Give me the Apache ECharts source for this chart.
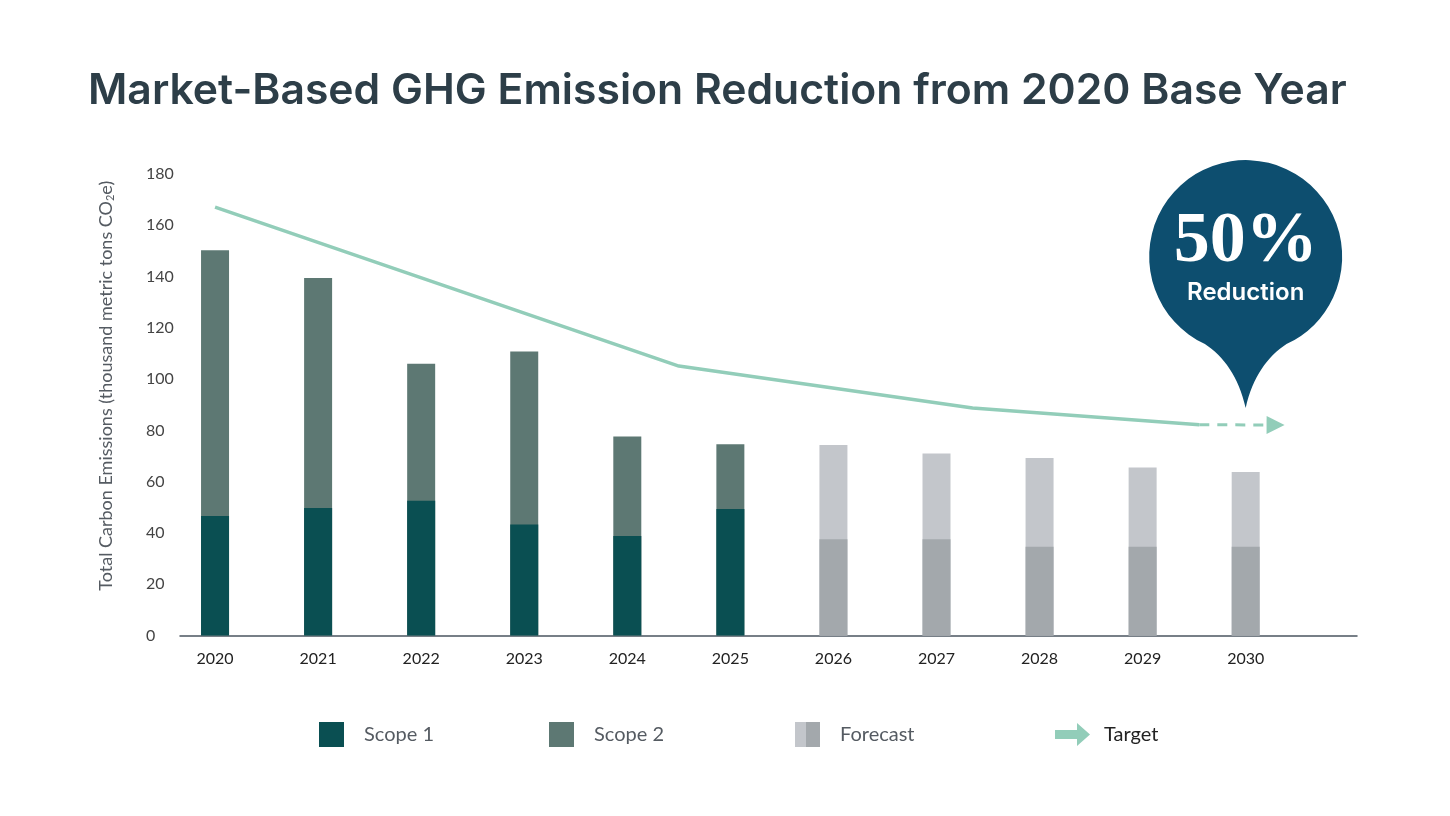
<!DOCTYPE html>
<html>
<head>
<meta charset="utf-8">
<title>Market-Based GHG Emission Reduction</title>
<script src="https://cdn.jsdelivr.net/npm/echarts@6/dist/echarts.min.js"></script>
<style>
    html, body { margin: 0; padding: 0; background: #fff; }
    #chart { width: 1450px; height: 816px; }
</style>
</head>
<body>
<div id="chart"></div>
<script>
    // data
    var years = [2020, 2021, 2022, 2023, 2024, 2025, 2026, 2027, 2028, 2029, 2030];
    var actualYears = [2020, 2021, 2022, 2023, 2024, 2025];
    var scope1 = [46.6, 49.7, 52.6, 43.3, 38.8, 49.3];
    var scope2 = [103.7, 89.7, 53.4, 67.5, 38.8, 25.3];
    var forecastYears = [2026, 2027, 2028, 2029, 2030];
    var forecastLow = [37.5, 37.5, 34.6, 34.6, 34.6];
    var forecastHigh = [36.8, 33.5, 34.6, 30.9, 29.2];
    // target path (x in fractional years)
    var targetX = [2020, 2024.5, 2027.35, 2029.55];
    var targetY = [167.1, 105.1, 88.7, 82.2];
    var targetEnd = [2030.29, 82.1];
    var bubbleAt = [2030, 88.7];
    var yTicks = [0, 20, 40, 60, 80, 100, 120, 140, 160, 180];

    var C_S1 = '#0A4F52', C_S2 = '#5D7873', C_FL = '#A3A8AC', C_FH = '#C3C6CB';
    var C_LINE = '#92CDB9', C_BUBBLE = '#0D4E6F';
    var FONT = 'Lato';

    function pairs(xs, ys) {
        return xs.map(function (x, i) { return [x, ys[i]]; });
    }
    // stacked look: the upper part is drawn as a full-height bar behind the lower one
    function totals(xs, a, b) {
        return xs.map(function (x, i) { return [x, +(a[i] + b[i]).toFixed(1)]; });
    }

    var bubblePath = 'path://M-40.8 87.5 A96.5 96.5 0 1 1 40.8 87.5 C22 100 7 120 0 151.5 C-7 120 -22 100 -40.8 87.5 Z';
    var arrowIcon = 'path://M0 7 L22 7 L22 0 L35 11.5 L22 23 L22 16 L0 16 Z';

    function legendAt(name, left, extra) {
        var l = {
            left: left, top: 717,
            itemWidth: 25, itemHeight: 25,
            icon: 'rect',
            selectedMode: false,
            data: [name],
            textStyle: { fontFamily: FONT, fontSize: 20, color: '#555b62', padding: [0, 0, 0, 15] }
        };
        for (var k in extra) { l[k] = extra[k]; }
        return l;
    }

    var chart = echarts.init(document.getElementById('chart'));
    var option = {
        backgroundColor: '#fff',
        animation: false,
        title: {
            text: 'Market-Based GHG Emission Reduction from 2020 Base Year',
            left: 83, top: 65,
            textStyle: { fontFamily: 'Inter', fontWeight: 600, fontSize: 42.7, color: '#2D3E48' }
        },
        legend: [
            legendAt('Scope 1', 314, {}),
            legendAt('Scope 2', 544, {}),
            legendAt('Forecast', 790, {
                data: [{
                    name: 'Forecast',
                    itemStyle: {
                        color: {
                            type: 'linear', x: 0, y: 0, x2: 1, y2: 0,
                            colorStops: [
                                { offset: 0, color: C_FH }, { offset: 0.46, color: C_FH },
                                { offset: 0.46, color: C_FL }, { offset: 1, color: C_FL }
                            ]
                        }
                    }
                }]
            }),
            legendAt('Target', 1050, {
                top: 718,
                itemWidth: 35, itemHeight: 23,
                data: [{ name: 'Target', icon: arrowIcon }],
                textStyle: { fontFamily: FONT, fontSize: 20, color: '#222', padding: [0, 0, 0, 9] }
            })
        ],
        grid: { left: 180, right: 93, top: 174, bottom: 180.5, containLabel: false },
        xAxis: {
            type: 'value',
            min: 2019.66, max: 2031.08,
            splitLine: { show: false },
            axisTick: { show: false },
            axisLine: { show: true, lineStyle: { color: '#4b5560', width: 1.5 } },
            axisLabel: {
                customValues: years,
                margin: 15,
                fontFamily: FONT, fontSize: 16, color: '#222',
                formatter: function (v) { return String(Math.round(v)); }
            }
        },
        yAxis: {
            type: 'value',
            min: 0, max: 180, interval: 20,
            name: 'Total Carbon Emissions (thousand metric tons CO{sub|2}e)',
            nameLocation: 'middle',
            nameGap: 64,
            nameTextStyle: {
                fontFamily: FONT, fontSize: 18, color: '#555b62',
                padding: [0, 0, 0, 38],
                rich: { sub: { fontFamily: FONT, fontSize: 11, color: '#555b62', padding: [9, 0, 0, 0] } }
            },
            splitLine: { show: false },
            axisLine: { show: false },
            axisTick: { show: false },
            axisLabel: {
                customValues: yTicks,
                margin: 34, align: 'left',
                fontFamily: FONT, fontSize: 16, color: '#444'
            }
        },
        series: [
            {
                name: 'Scope 2', type: 'bar', barWidth: 28, barGap: '-100%',
                itemStyle: { color: C_S2 },
                data: totals(actualYears, scope1, scope2)
            },
            {
                name: 'Scope 1', type: 'bar', barWidth: 28, barGap: '-100%',
                itemStyle: { color: C_S1 },
                data: pairs(actualYears, scope1)
            },
            {
                name: 'Forecast', type: 'bar', barWidth: 28, barGap: '-100%',
                itemStyle: { color: C_FH },
                data: totals(forecastYears, forecastLow, forecastHigh)
            },
            {
                name: 'Forecast', type: 'bar', barWidth: 28, barGap: '-100%',
                itemStyle: { color: C_FL },
                data: pairs(forecastYears, forecastLow)
            },
            {
                name: 'Target', type: 'line',
                symbol: 'none',
                lineStyle: { color: C_LINE, width: 3.5 },
                itemStyle: { color: C_LINE },
                data: pairs(targetX, targetY),
                markLine: {
                    silent: true,
                    symbol: ['none', 'triangle'],
                    symbolSize: 18,
                    label: { show: false },
                    lineStyle: { color: C_LINE, width: 3, type: [10, 8] },
                    data: [[
                        { coord: [targetX[targetX.length - 1], targetY[targetY.length - 1]] },
                        { coord: targetEnd }
                    ]]
                },
                markPoint: {
                    silent: true,
                    symbol: bubblePath,
                    symbolSize: [193, 248],
                    symbolOffset: [0, '-50%'],
                    itemStyle: { color: C_BUBBLE },
                    label: {
                        show: true,
                        position: 'inside',
                        offset: [0, -26],
                        formatter: '{big|50%}\n{small|Reduction}',
                        rich: {
                            big: { fontFamily: 'Liberation Serif', fontWeight: 'bold', fontSize: 72, color: '#fff', lineHeight: 70, align: 'center' },
                            small: { fontFamily: 'Inter', fontWeight: 600, fontSize: 24, color: '#fff', lineHeight: 32, align: 'center' }
                        }
                    },
                    data: [{ coord: bubbleAt }]
                }
            }
        ]
    };
    chart.setOption(option);
    window.onresize = function () { chart.resize(); };
</script>
</body>
</html>
